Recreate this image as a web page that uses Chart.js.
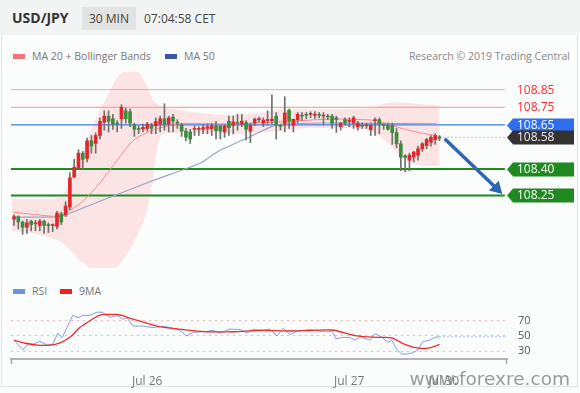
<!DOCTYPE html>
<html>
<head>
<meta charset="utf-8">
<script src="https://cdn.jsdelivr.net/npm/chart.js@4.4.0/dist/chart.umd.min.js"></script>
<style>
  html, body { margin: 0; padding: 0; background: #fff; }
  #wrap { position: relative; width: 580px; height: 393px; background: #fbfcfc; overflow: hidden; font-family: 'Open Sans', sans-serif; }
  #head { position: absolute; left: 0; top: 0; width: 580px; height: 35px; background: #f2f3f3; }
  #frame { position: absolute; left: 1px; top: 35px; width: 575px; height: 351px; border: 1px solid #e3e5e5; border-top: none; }
  .t { position: absolute; white-space: nowrap; }
  #pair { left: 12px; top: 8px; font-size: 14px; font-weight: bold; color: #333; }
  #tf { left: 82px; top: 7px; width: 54px; height: 23px; background: #e2e3e3; font-size: 12px; color: #444; line-height: 23px; text-align: center; }
  #time { left: 144px; top: 10px; font-size: 12px; color: #444; }
  .lg { font-size: 10.5px; color: #777; }
  .sw { position: absolute; width: 12px; height: 5px; }
  #mark { right: 10px; top: 368px; font-family: 'DejaVu Sans', sans-serif; font-size: 18.5px; color: rgba(130,130,130,0.8); }
  canvas { position: absolute; left: 0; }
</style>
</head>
<body>
<div id="wrap">
  <div id="head"></div>
  <div id="frame"></div>
  <div class="t" id="pair">USD/JPY</div>
  <div class="t" id="tf">30 MIN</div>
  <div class="t" id="time">07:04:58 CET</div>

  <div class="sw" style="left:13px;top:54px;background:#f27474"></div>
  <div class="t lg" style="left:32px;top:49px">MA 20 + Bollinger Bands</div>
  <div class="sw" style="left:165px;top:54px;background:#3a58a0"></div>
  <div class="t lg" style="left:184px;top:49px">MA 50</div>
  <div class="t lg" style="right:10px;top:49px;color:#888">Research © 2019 Trading Central</div>

  <div class="sw" style="left:13px;top:289px;background:#6f92e0"></div>
  <div class="t lg" style="left:32px;top:284px">RSI</div>
  <div class="sw" style="left:60px;top:289px;background:#ee2020"></div>
  <div class="t lg" style="left:79px;top:284px">9MA</div>

  <canvas id="priceChart" width="580" height="212" style="top:64px"></canvas>
  <canvas id="rsiChart" width="580" height="113" style="top:280px"></canvas>
  <div class="t" id="mark">www.forexre.com</div>
</div>
<script>
// 30 min candles, USD/JPY
var open = [108.115,108.13,108.10,108.07,108.105,108.09,108.08,108.105,108.085,108.08,
  108.075,108.145,108.14,108.185,108.355,108.405,108.49,108.46,108.56,108.545,
  108.59,108.665,108.70,108.685,108.66,108.685,108.73,108.725,108.65,108.628,
  108.628,108.63,108.648,108.645,108.655,108.685,108.655,108.695,108.665,108.65,
  108.615,108.61,108.625,108.625,108.625,108.63,108.628,108.645,108.645,108.61,
  108.67,108.648,108.665,108.655,108.663,108.615,108.66,108.68,108.66,108.675,
  108.674,108.70,108.648,108.654,108.733,108.648,108.68,108.705,108.71,108.71,
  108.705,108.71,108.70,108.70,108.70,108.69,108.64,108.68,108.67,108.66,
  108.64,108.647,108.645,108.623,108.675,108.68,108.65,108.648,108.648,108.607,
  108.543,108.475,108.45,108.468,108.478,108.515,108.533,108.552,108.567,108.582];
var high = [108.14,108.135,108.105,108.115,108.11,108.11,108.115,108.11,108.095,108.09,
  108.16,108.155,108.215,108.38,108.455,108.51,108.50,108.575,108.59,108.605,
  108.69,108.73,108.73,108.71,108.675,108.765,108.745,108.74,108.66,108.645,
  108.655,108.665,108.66,108.69,108.70,108.77,108.70,108.71,108.68,108.66,
  108.63,108.625,108.645,108.64,108.65,108.655,108.66,108.67,108.645,108.65,
  108.70,108.70,108.71,108.71,108.675,108.66,108.69,108.695,108.69,108.73,
  108.82,108.72,108.655,108.81,108.74,108.683,108.72,108.72,108.72,108.725,
  108.725,108.72,108.72,108.71,108.71,108.70,108.665,108.69,108.69,108.70,
  108.67,108.66,108.66,108.66,108.69,108.69,108.655,108.66,108.66,108.63,
  108.56,108.48,108.49,108.50,108.53,108.55,108.575,108.59,108.60,108.59];
var low = [108.08,108.06,108.03,108.035,108.05,108.05,108.05,108.035,108.04,108.045,
  108.06,108.085,108.13,108.17,108.35,108.40,108.40,108.44,108.49,108.49,
  108.57,108.62,108.61,108.625,108.61,108.63,108.66,108.64,108.585,108.60,
  108.61,108.615,108.60,108.60,108.61,108.62,108.61,108.61,108.63,108.585,
  108.56,108.545,108.59,108.59,108.60,108.60,108.59,108.57,108.57,108.58,
  108.59,108.60,108.62,108.64,108.565,108.55,108.645,108.665,108.64,108.65,
  108.655,108.57,108.62,108.61,108.63,108.61,108.66,108.675,108.685,108.69,
  108.685,108.69,108.65,108.68,108.63,108.607,108.62,108.65,108.64,108.63,
  108.62,108.63,108.63,108.59,108.59,108.60,108.625,108.62,108.54,108.52,
  108.39,108.385,108.39,108.44,108.45,108.50,108.515,108.53,108.54,108.56];
var close = [108.13,108.10,108.07,108.095,108.085,108.095,108.105,108.08,108.08,108.085,
  108.15,108.10,108.19,108.35,108.41,108.49,108.455,108.56,108.53,108.59,
  108.67,108.70,108.67,108.655,108.655,108.75,108.685,108.66,108.625,108.624,
  108.636,108.655,108.63,108.67,108.685,108.655,108.69,108.672,108.66,108.615,
  108.58,108.57,108.63,108.63,108.635,108.64,108.645,108.617,108.615,108.645,
  108.635,108.667,108.66,108.672,108.625,108.648,108.682,108.685,108.677,108.679,
  108.683,108.648,108.642,108.718,108.672,108.682,108.71,108.70,108.705,108.715,
  108.71,108.705,108.705,108.695,108.66,108.68,108.66,108.66,108.672,108.69,
  108.66,108.643,108.65,108.648,108.68,108.655,108.647,108.626,108.607,108.543,
  108.468,108.465,108.478,108.496,108.515,108.543,108.567,108.58,108.59,108.575];

// Bollinger bands and moving averages, read at a few bars
var bandIdx   = [-0.5, 6, 7.2, 10.7, 12.3, 14.2, 15.3, 16.5, 19.3, 20, 21.6, 24, 25.8, 27.7, 28.8, 30.9, 32.3, 33.3, 34.7, 37.4, 43.3, 50.2, 57.2, 63, 68.8, 75.8, 82.8, 86.3, 89.8, 94.4, 99];
var bandUpper = [108.228, 108.228, 108.228, 108.239, 108.294, 108.394, 108.46, 108.533, 108.70, 108.735, 108.806, 108.917, 108.956, 108.955, 108.95, 108.872, 108.794, 108.77, 108.756, 108.739, 108.717, 108.706, 108.717, 108.739, 108.739, 108.739, 108.744, 108.772, 108.778, 108.767, 108.761];
var bandLower = [108.05, 108.028, 108.02, 107.989, 107.96, 107.91, 107.883, 107.86, 107.815, 107.806, 107.80, 107.844, 107.90, 107.978, 108.03, 108.161, 108.339, 108.517, 108.60, 108.606, 108.606, 108.60, 108.606, 108.617, 108.633, 108.633, 108.617, 108.561, 108.478, 108.422, 108.417];
var ma20Idx = [-0.2, 6, 10, 12.3, 16, 20, 24, 27.7, 30.9, 34, 38.6, 50.2, 61.9, 73.5, 82.8, 86.3, 89.8, 94.4, 98.4];
var ma20    = [108.156, 108.139, 108.133, 108.156, 108.217, 108.322, 108.45, 108.561, 108.606, 108.633, 108.656, 108.656, 108.667, 108.683, 108.678, 108.661, 108.633, 108.606, 108.589];
var ma50Idx = [-0.2, 10, 12.3, 20, 31.6, 43.3, 47.9, 54.9, 61.2, 73.5, 98.4];
var ma50    = [108.128, 108.128, 108.144, 108.217, 108.328, 108.433, 108.506, 108.583, 108.65, 108.661, 108.656];

// key levels
var levelValues = [108.85, 108.75, 108.65, 108.58, 108.40, 108.25];
var arrowIdx = [100.2, 112.3];
var arrowPrice = [108.572, 108.29];

// RSI panel
var rsiIdx = [0,2.1,3.3,4.4,6,7.7,9,10.2,11.2,12.3,13.7,14.9,16,17.7,19.3,20.5,22.3,24,25.3,26.3,27.7,30,32.3,34.7,36.3,38.6,40.2,41.6,44.9,46.3,47.9,50.2,52.6,54.2,55.6,57.9,59.5,61.2,62.6,64.2,65.8,68.8,71.2,74,74.9,76.5,78.1,79.3,80.5,82.8,84,85.6,87,87.9,89.1,90.2,91.4,92.8,94,95.1,96.7,97.9,99];
var rsi    = [44.5,32,40,39,43,38,39,53.7,47.5,61,77,73.7,77,77,81,81,74.4,76.6,71.8,73.7,62.8,62.8,61,62.8,61,57.3,50,54.8,55.8,57.3,53.7,59,58.4,54,58.4,57.3,59,50,60,52,56,58.4,56,56,46.4,48.2,48.2,44.5,49,44.5,53,48.2,41.7,44.5,32,26.4,26.4,28.2,32,42.8,44.5,48.2,49];
var rsiMaIdx = [0,3,5.4,8.4,10.7,13,15.3,17.7,20,22.3,24,25.3,27.7,30,33.3,37,41,44.9,51,57.2,64.2,68.8,74,79.8,85.1,87.9,90.5,93.7,96.7,99];
var rsiMa    = [44.5,40.2,38,38,41,48.2,61,70,77.3,78,78,76.6,71.8,68.2,62.8,59.8,57.3,55.5,55.5,57.3,56.5,57,57.8,50,48.2,47.5,40,34.4,34.4,39];
var rsiTicks = [30, 50, 70];
var dayTickIdx = [31, 78, 100];
var dayTickLabels = ['Jul 26', 'Jul 27', 'Jul 30'];

var xMin = -0.7, xMax = 114.7, lineEnd = 114.2;

Chart.defaults.font.family = "'Open Sans', sans-serif";

function pts(xs, ys) {
  return xs.map(function (x, i) { return {x: x, y: ys[i]}; });
}
function level(v, from, color, width, dash) {
  return {
    type: 'line', data: [{x: from, y: v}, {x: lineEnd, y: v}],
    borderColor: color, borderWidth: width, borderDash: dash || [],
    pointRadius: 0, order: 4
  };
}

var wickData = open.map(function (o, i) { return {x: i, y: [low[i], high[i]]}; });
var bodyData = open.map(function (o, i) { return {x: i, y: [o, close[i]]}; });
var bodyColors = open.map(function (o, i) { return close[i] >= o ? '#e2262b' : '#3b8c3b'; });

var tagStyles = [
  {text: '#ff2a2a'}, {text: '#ff2a2a'},
  {text: '#fff', tag: '#2d6ff0'}, {text: '#eee', tag: '#333'},
  {text: '#fff', tag: '#1f8a1f'}, {text: '#fff', tag: '#1f8a1f'}
];

var levelTags = {
  id: 'levelTags',
  afterDraw: function (chart) {
    var ctx = chart.ctx, ys = chart.scales.y;
    ctx.save();
    ctx.font = "12px 'Open Sans'";
    ctx.textBaseline = 'middle';
    levelValues.forEach(function (v, k) {
      var py = Math.round(ys.getPixelForValue(v)) + 0.5;
      var st = tagStyles[k];
      if (st.tag) {
        ctx.fillStyle = st.tag;
        ctx.beginPath();
        ctx.moveTo(507, py);
        ctx.lineTo(513, py - 7);
        ctx.lineTo(574, py - 7);
        ctx.lineTo(574, py + 7);
        ctx.lineTo(513, py + 7);
        ctx.closePath();
        ctx.fill();
      }
      ctx.fillStyle = st.text;
      ctx.fillText(v.toFixed(2), 517, py + 0.5);
    });
    ctx.restore();
  }
};

new Chart(document.getElementById('priceChart'), {
  type: 'bar',
  data: {
    datasets: [
      {type: 'bar', data: bodyData, backgroundColor: bodyColors, barThickness: 3, minBarLength: 1, grouped: false, borderWidth: 0, order: 0},
      {type: 'bar', data: wickData, backgroundColor: '#707070', barThickness: 1, grouped: false, borderWidth: 0, order: 1},
      {type: 'line', data: pts(ma20Idx, ma20), borderColor: '#f58a8a', borderWidth: 1, pointRadius: 0, tension: 0.3, order: 2},
      {type: 'line', data: pts(ma50Idx, ma50), borderColor: '#94a6c9', borderWidth: 1.2, pointRadius: 0, tension: 0.2, order: 2},
      {type: 'line', data: pts(arrowIdx, arrowPrice), borderColor: '#2f66b3', borderWidth: 3.5,
        pointRadius: [0, 8], pointStyle: 'triangle', pointRotation: 135, rotation: 135,
        pointBackgroundColor: '#2f66b3', pointBorderWidth: 0, order: 1, clip: false},
      level(levelValues[0], xMin, '#ffa0a0', 1),
      level(levelValues[1], xMin, '#ff9090', 1),
      level(levelValues[2], xMin, '#3f7cf0', 1.3),
      level(levelValues[3], 99, '#888', 1, [1, 3]),
      level(levelValues[4], xMin, '#1f8a1f', 2),
      level(levelValues[5], xMin, '#1f8a1f', 2),
      {type: 'line', data: pts(bandIdx, bandUpper), borderWidth: 0, borderColor: 'rgba(0,0,0,0)', pointRadius: 0,
        cubicInterpolationMode: 'monotone', fill: '+1', backgroundColor: 'rgba(252,200,200,0.45)', order: 6},
      {type: 'line', data: pts(bandIdx, bandLower), borderWidth: 0, borderColor: 'rgba(0,0,0,0)', pointRadius: 0,
        cubicInterpolationMode: 'monotone', fill: false, order: 6}
    ]
  },
  options: {
    responsive: false,
    animation: false,
    layout: {padding: {left: 11, right: 73, top: 6, bottom: 6}},
    plugins: {legend: {display: false}, tooltip: {enabled: false}},
    scales: {
      x: {type: 'linear', min: xMin, max: xMax, offset: false, display: false, grid: {offset: false}},
      y: {type: 'linear', min: 107.839, max: 108.95, display: false}
    }
  },
  plugins: [levelTags]
});

var axisEnds = {
  id: 'axisEnds',
  afterDraw: function (chart) {
    var ctx = chart.ctx, a = chart.chartArea;
    ctx.save();
    ctx.strokeStyle = '#aaa';
    ctx.lineWidth = 1.5;
    [a.left + 0.5, a.right - 0.5].forEach(function (x) {
      ctx.beginPath();
      ctx.moveTo(x, a.bottom);
      ctx.lineTo(x, a.bottom + 5);
      ctx.stroke();
    });
    ctx.restore();
  }
};

new Chart(document.getElementById('rsiChart'), {
  type: 'line',
  data: {
    datasets: [
      {data: pts(rsiMaIdx, rsiMa), borderColor: '#ee2b2b', borderWidth: 1.3, pointRadius: 0, tension: 0.3},
      {data: pts(rsiIdx, rsi), borderColor: '#7f9fe3', borderWidth: 1, pointRadius: 0},
      {data: [{x: rsiIdx[rsiIdx.length - 1], y: rsi[rsi.length - 1]}, {x: lineEnd, y: rsi[rsi.length - 1]}],
        borderColor: '#5b7fd4', borderWidth: 1.2, borderDash: [1, 3], pointRadius: 0}
    ]
  },
  options: {
    responsive: false,
    animation: false,
    layout: {padding: {left: 11, right: 0, top: 5.6, bottom: 0}},
    plugins: {legend: {display: false}, tooltip: {enabled: false}},
    scales: {
      x: {
        type: 'linear', min: xMin, max: xMax,
        grid: {display: false},
        border: {color: '#b3b3b3', width: 2},
        afterBuildTicks: function (s) { s.ticks = dayTickIdx.map(function (v) { return {value: v}; }); },
        afterFit: function (s) { s.height = 34; },
        ticks: {
          autoSkip: false, maxRotation: 0, padding: 7, color: '#777', font: {size: 12},
          callback: function (v) { return dayTickLabels[dayTickIdx.indexOf(v)]; }
        }
      },
      y: {
        position: 'right', min: 20, max: 100,
        grid: {color: '#efb5b5', drawTicks: false, lineWidth: 1},
        border: {display: false, dash: [2, 4]},
        afterBuildTicks: function (s) { s.ticks = rsiTicks.map(function (v) { return {value: v}; }); },
        afterFit: function (s) { s.width = 73; },
        ticks: {padding: 11, color: '#555', font: {size: 11}}
      }
    }
  },
  plugins: [axisEnds]
});
</script>
</body>
</html>
